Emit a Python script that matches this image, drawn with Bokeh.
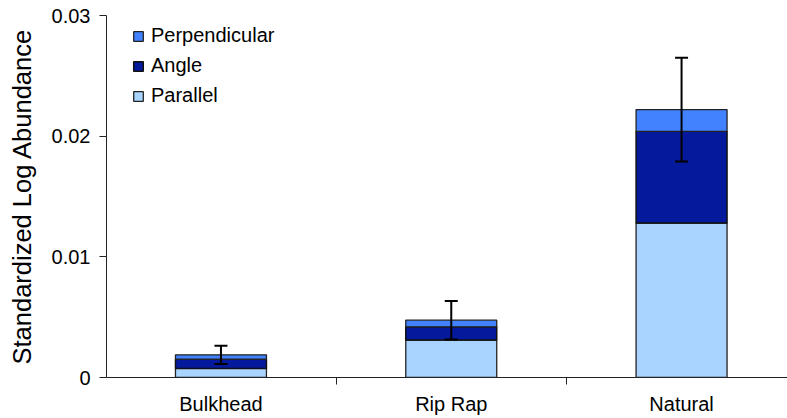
from bokeh.plotting import figure
from bokeh.models import (Range1d, FixedTicker, ColumnDataSource, Whisker, Legend,
                          LegendItem)
from bokeh.embed import file_html
from bokeh.resources import INLINE

categories = ["Bulkhead", "Rip Rap", "Natural"]
parallel = [0.00075, 0.0031, 0.0128]
angle = [0.00077, 0.0011, 0.0076]
perpendicular = [0.00036, 0.00055, 0.0018]
error = [0.00076, 0.0016, 0.0043]
y_ticks = [0, 0.01, 0.02, 0.03]
y_tick_labels = ["0", "0.01", "0.02", "0.03"]
y_title = "Standardized Log Abundance"

colors = {"Parallel": "#A8D4FF", "Angle": "#04199B", "Perpendicular": "#4382FF"}

x = list(range(len(categories)))
b1 = [0.0] * len(x)
t1 = [a for a in parallel]
t2 = [a + b for a, b in zip(t1, angle)]
t3 = [a + b for a, b in zip(t2, perpendicular)]

FONT = "Liberation Sans"

p = figure(width=787, height=418, output_backend="svg", toolbar_location=None,
           x_range=Range1d(-0.497, 2.46), y_range=Range1d(0, 0.03),
           min_border_left=106, min_border_right=0, min_border_top=15, min_border_bottom=41)
p.outline_line_color = None
p.grid.grid_line_color = None
p.background_fill_color = "white"

src = ColumnDataSource(dict(x=x, b1=b1, t1=t1, t2=t2, t3=t3,
                            lo=[t - e for t, e in zip(t3, error)],
                            hi=[t + e for t, e in zip(t3, error)]))
W = 0.395
r_par = p.vbar(x="x", bottom="b1", top="t1", width=W, source=src,
               fill_color=colors["Parallel"], line_color="#222222", line_width=1.3)
r_ang = p.vbar(x="x", bottom="t1", top="t2", width=W, source=src,
               fill_color=colors["Angle"], line_color="#111111", line_width=1.5)
r_per = p.vbar(x="x", bottom="t2", top="t3", width=W, source=src,
               fill_color=colors["Perpendicular"], line_color="#222222", line_width=1.3)

wh = Whisker(base="x", lower="lo", upper="hi", source=src, line_color="black", line_width=2,
             level="overlay")
wh.upper_head.size = 13
wh.lower_head.size = 13
wh.upper_head.line_width = 2
wh.lower_head.line_width = 2
p.add_layout(wh)

# axes
p.xaxis.ticker = FixedTicker(ticks=x, minor_ticks=[0.5, 1.5])
p.xaxis.major_label_overrides = {i: c for i, c in enumerate(categories)}
p.xaxis.major_tick_line_color = None
p.xaxis.major_tick_in = 0
p.xaxis.major_tick_out = 0
p.xaxis.minor_tick_in = 0
p.xaxis.minor_tick_out = 7
p.xaxis.minor_tick_line_color = "#222222"
p.xaxis.axis_line_color = "#222222"
p.xaxis.major_label_text_font = FONT
p.xaxis.major_label_text_font_size = "20px"
p.xaxis.major_label_text_color = "black"
p.xaxis.major_label_standoff = 8

p.yaxis.ticker = FixedTicker(ticks=y_ticks)
p.yaxis.major_label_overrides = {t: l for t, l in zip(y_ticks, y_tick_labels)}
p.yaxis.minor_tick_line_color = None
p.yaxis.major_tick_in = 0
p.yaxis.major_tick_out = 7
p.yaxis.major_tick_line_color = "#222222"
p.yaxis.axis_line_color = "#222222"
p.yaxis.major_label_text_font = FONT
p.yaxis.major_label_text_font_size = "20px"
p.yaxis.major_label_text_color = "black"
p.yaxis.major_label_standoff = 9
p.yaxis.axis_label = y_title
p.yaxis.axis_label_text_font = FONT
p.yaxis.axis_label_text_font_size = "25.5px"
p.yaxis.axis_label_text_font_style = "normal"
p.yaxis.axis_label_text_color = "black"
p.yaxis.axis_label_standoff = 13

legend = Legend(items=[LegendItem(label="Perpendicular", renderers=[r_per]),
                       LegendItem(label="Angle", renderers=[r_ang]),
                       LegendItem(label="Parallel", renderers=[r_par])],
                location=(26, 270))
legend.border_line_color = None
legend.background_fill_alpha = 0
legend.margin = 0
legend.padding = 0
legend.label_text_font = FONT
legend.label_text_font_size = "20px"
legend.label_text_color = "black"
legend.glyph_width = 12
legend.glyph_height = 12
legend.label_standoff = 7
legend.label_height = 20
legend.spacing = 7
p.add_layout(legend)

open("out.html", "w").write(file_html(p, INLINE))
